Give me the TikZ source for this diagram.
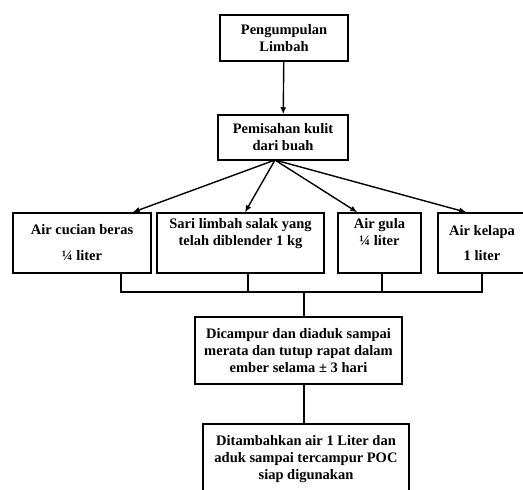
\documentclass[tikz,border=0pt]{standalone}
\usepackage{fontspec}
\setmainfont{Liberation Serif}
\usetikzlibrary{arrows.meta, positioning, calc}

\begin{document}
\begin{tikzpicture}[x=1pt, y=-1pt,
  box/.style = {rectangle, draw=black, line width=1.5pt, inner sep=0pt,
                font=\fontsize{14.5}{17}\selectfont\bfseries, align=center},
  arr/.style = {-{Latex[length=7pt,width=6pt]}, line width=1.4pt},
  lin/.style = {line width=1.5pt},
]
  \useasboundingbox (0,0) rectangle (523,490);

  \node[box, minimum width=128, minimum height=46] (kumpul) at (284, 38)    {Pengumpulan\\Limbah};
  \node[box, minimum width=130, minimum height=45] (pisah)  at (283, 137.5) {Pemisahan kulit\\dari buah};
  \node[box, minimum width=138, minimum height=60] (beras)  at (82, 243)    {Air cucian beras\\[9pt]¼ liter};
  \node[box, minimum width=167, minimum height=60] (sari)   at (240.5, 243) {Sari limbah salak yang\\telah diblender 1 kg\\\strut};
  \node[box, minimum width=83,  minimum height=60] (gula)   at (379.5, 243) {Air gula\\¼ liter\\\strut};
  \node[box, minimum width=88,  minimum height=60] (kelapa) at (482, 243)   {Air kelapa\\[8pt]1 liter};
  \node[box, minimum width=207, minimum height=67] (campur) at (298.5, 350.5) {Dicampur dan diaduk sampai\\merata dan tutup rapat dalam\\ember selama ± 3 hari};
  \node[box, minimum width=206, minimum height=70] (siap)   at (306, 459)   {Ditambahkan air 1 Liter dan\\aduk sampai tercampur POC\\siap digunakan};

  \coordinate (pecah)  at (275, 160);
  \coordinate (gabung) at (304, 291);

  \draw[arr] (kumpul) -- (pisah);
  \draw[arr] (pecah) -- ($(beras.north east)+(-19,0)$);
  \draw[arr] (pecah) -- ($(sari.north)+(4.5,0)$);
  \draw[arr] (pecah) -- ($(gula.north west)+(20,0)$);
  \draw[arr] (pecah) -- ($(kelapa.north west)+(29,0)$);

  \draw[lin] ($(beras.south east)+(-31,0)$) -- ++(0,18) -| (kelapa.south);
  \draw[lin] ($(sari.south)+(7.5,0)$) -- ++(0,18);
  \draw[lin] ($(gula.south)+(2.5,0)$) -- ++(0,18);
  \draw[lin] (gabung) -- (campur.north -| gabung);
  \draw[lin] (campur.south -| gabung) -- (siap.north -| gabung);
\end{tikzpicture}
\end{document}
